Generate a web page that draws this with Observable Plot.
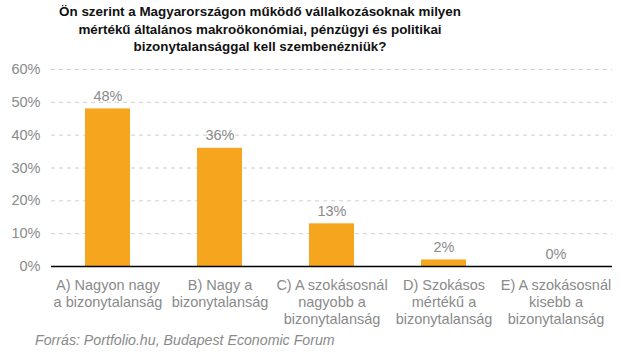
<!DOCTYPE html>
<html><head><meta charset="utf-8">
<script src="https://cdn.jsdelivr.net/npm/d3@7"></script>
<script src="https://cdn.jsdelivr.net/npm/@observablehq/plot@0.6"></script>
<style>
body{margin:0;background:#fff;width:623px;height:361px;overflow:hidden;font-family:"Liberation Sans",Arial,sans-serif;}
#title{width:520px;text-align:center;font-weight:bold;font-size:13.4px;line-height:17.5px;color:#111;padding-top:3px;height:55px;}
#caption{font-style:italic;font-size:14.2px;color:#8a8a8a;line-height:20px;padding-left:35px;}
svg{display:block}
</style></head><body>
<div id="title">Ön szerint a Magyarországon működő vállalkozásoknak milyen<br>mértékű általános makroökonómiai, pénzügyi és politikai<br>bizonytalansággal kell szembenézniük?</div>
<div id="chart"></div>
<div id="caption">Forrás: Portfolio.hu, Budapest Economic Forum</div>
<script>
const categories = ["A) Nagyon nagy\na bizonytalanság", "B) Nagy a\nbizonytalanság", "C) A szokásosnál\nnagyobb a\nbizonytalanság", "D) Szokásos\nmértékű a\nbizonytalanság", "E) A szokásosnál\nkisebb a\nbizonytalanság"];
const values = [48, 36, 13, 2, 0];
const yTicks = [0, 10, 20, 30, 40, 50, 60];

const data = categories.map((c, i) => ({cat: c, v: values[i]}));
const FONT = "'Liberation Sans', Arial, sans-serif";

const chart = Plot.plot({
  width: 623,
  height: 272,
  marginTop: 11,
  marginBottom: 64,
  marginLeft: 51,
  marginRight: 11,
  style: {fontFamily: FONT, fontSize: "14.5px", color: "#8a8a8a", background: "#fff"},
  x: {domain: categories, paddingInner: 0.6, paddingOuter: 0.3, label: null},
  y: {domain: [0, 60], ticks: yTicks, label: null},
  marks: [
    Plot.gridY(yTicks.filter(t => t > 0), {stroke: "#d0d0d0", strokeOpacity: 1, strokeDasharray: "4,4"}),
    Plot.axisY({ticks: yTicks, tickSize: 0, tickPadding: 11, tickFormat: d => d + "%", fontSize: 14.5, label: null}),
    Plot.axisX({tickSize: 0, tickPadding: 11, fontSize: 14.5, lineHeight: 1.18, label: null}),
    Plot.barY(data, {x: "cat", y: "v", fill: "#F6A51E"}),
    Plot.text(data, {x: "cat", y: "v", text: d => d.v + "%", lineAnchor: "bottom", dy: -8, fill: "#8a8a8a", fontSize: 14.5}),
    Plot.ruleY([0], {stroke: "#000", strokeWidth: 1.5})
  ]
});
document.getElementById("chart").appendChild(chart);
</script>
</body></html>
